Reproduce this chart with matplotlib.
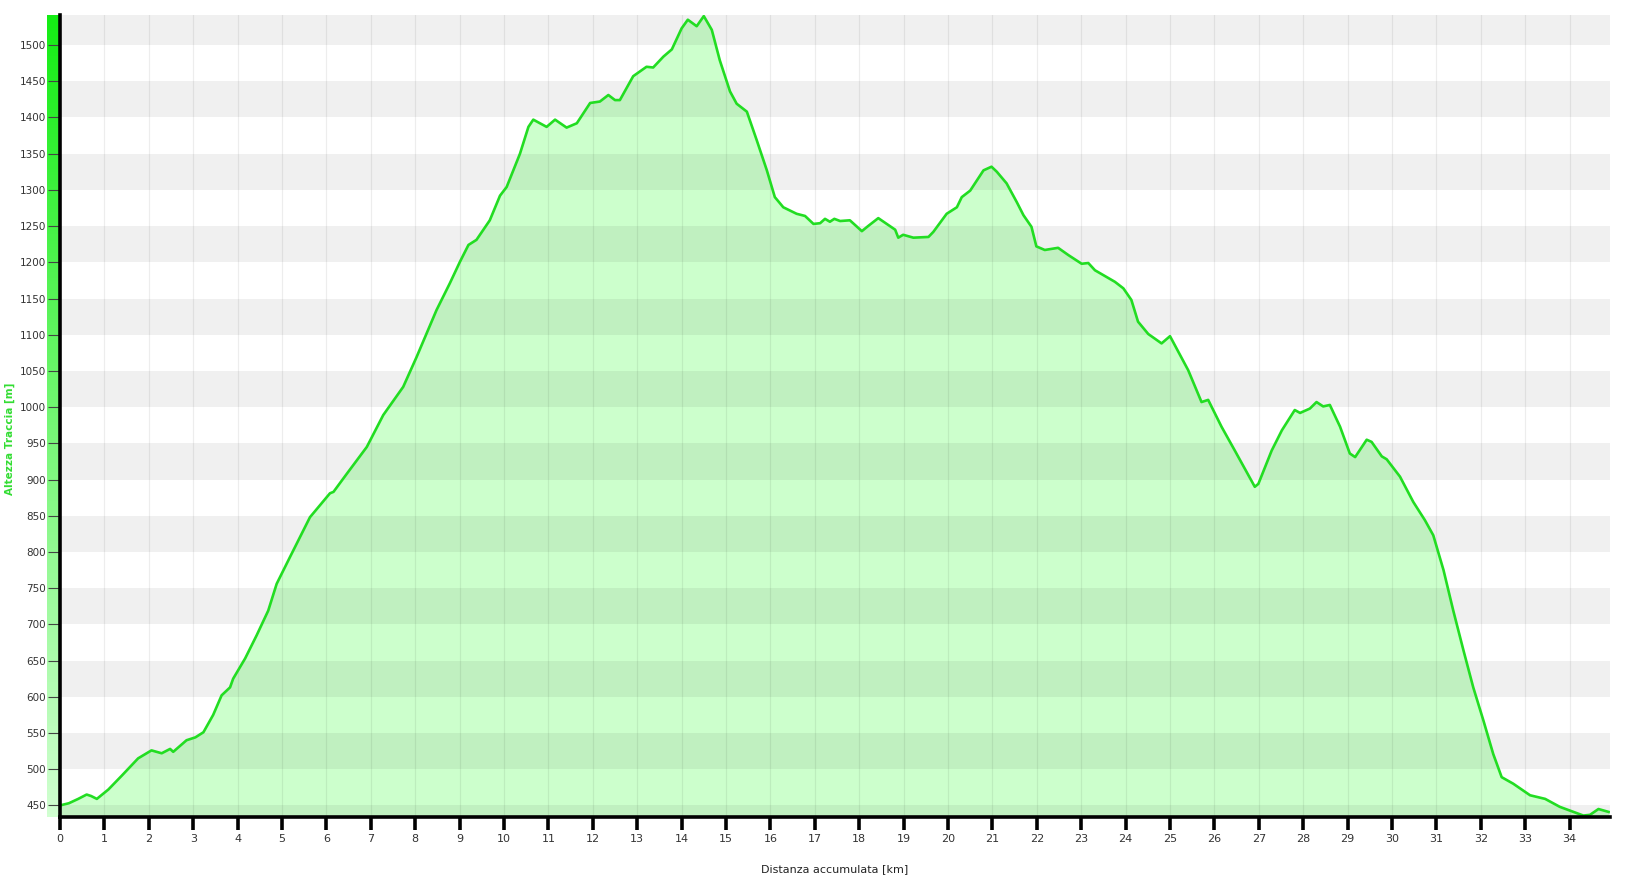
import matplotlib
matplotlib.use("Agg")
import matplotlib.pyplot as plt
import numpy as np

# ---- data (km, elevation m) ----
dist_km = [0.0, 0.2, 0.41, 0.6, 0.7, 0.83, 1.09, 1.39, 1.76, 2.06, 2.29, 2.48, 2.55, 2.85, 3.05,
           3.23, 3.45, 3.64, 3.83, 3.9, 4.17, 4.43, 4.69, 4.88, 5.18, 5.63, 6.08, 6.16, 6.46, 6.91,
           7.28, 7.73, 8.03, 8.48, 8.78, 9.01, 9.2, 9.38, 9.68, 9.91, 10.06, 10.36, 10.55, 10.66,
           10.96, 11.15, 11.41, 11.64, 11.94, 12.16, 12.35, 12.5, 12.61, 12.91, 13.21, 13.36, 13.59,
           13.78, 14.0, 14.14, 14.34, 14.5, 14.68, 14.86, 15.09, 15.24, 15.47, 15.69, 15.92, 16.1,
           16.29, 16.59, 16.78, 16.97, 17.12, 17.23, 17.34, 17.44, 17.57, 17.79, 18.06, 18.2, 18.43,
           18.69, 18.81, 18.88, 18.99, 19.22, 19.56, 19.67, 19.97, 20.2, 20.31, 20.5, 20.8, 20.98,
           21.1, 21.32, 21.55, 21.7, 21.88, 21.99, 22.18, 22.48, 22.71, 23.01, 23.16, 23.31, 23.76,
           23.95, 24.13, 24.28, 24.51, 24.81, 25.0, 25.41, 25.71, 25.86, 26.16, 26.46, 26.91, 26.99,
           27.29, 27.52, 27.81, 27.93, 28.15, 28.3, 28.45, 28.6, 28.83, 29.05, 29.17, 29.43, 29.54,
           29.77, 29.88, 30.18, 30.48, 30.74, 30.93, 31.16, 31.38, 31.61, 31.83, 32.06, 32.28, 32.47,
           32.73, 33.11, 33.45, 33.78, 34.0, 34.31, 34.46, 34.65, 34.88]
elev_m = [450, 453, 459, 465, 463, 459, 472, 491, 515, 526, 522, 528, 524, 540, 544,
          551, 575, 602, 613, 625, 653, 685, 719, 756, 793, 848, 881, 883, 908, 945,
          989, 1028, 1069, 1134, 1171, 1201, 1224, 1231, 1258, 1292, 1304, 1350, 1387, 1397,
          1387, 1397, 1386, 1392, 1420, 1422, 1431, 1424, 1424, 1457, 1470, 1469, 1484,
          1494, 1523, 1535, 1526, 1540, 1521, 1479, 1436, 1419, 1408, 1369, 1327, 1290,
          1276, 1267, 1264, 1253, 1254, 1260, 1256, 1260, 1257, 1258, 1243, 1250, 1261,
          1250, 1245, 1234, 1238, 1234, 1235, 1242, 1267, 1276, 1290, 1299, 1327, 1332,
          1325, 1309, 1283, 1265, 1249, 1222, 1217, 1220, 1210, 1198, 1199, 1189, 1173,
          1164, 1148, 1118, 1101, 1088, 1098, 1051, 1007, 1010, 973, 940, 890, 894,
          940, 968, 996, 992, 998, 1007, 1001, 1003, 973, 936, 931, 955, 952,
          932, 928, 904, 869, 844, 823, 775, 719, 664, 613, 567, 521, 489,
          480, 464, 459, 448, 443, 436, 437, 445, 441]

x_ticks = list(range(0, 35))
y_ticks = list(range(450, 1501, 50))
band_starts = list(range(400, 1501, 100))

xlabel = "Distanza accumulata [km]"
ylabel = "Altezza Traccia [m]"

X_MIN, X_MAX = 0, 34.91
Y_MIN, Y_MAX = 434, 1541.5

W, H = 1638, 877
fig = plt.figure(figsize=(W / 100, H / 100), dpi=100)
fig.patch.set_facecolor("white")

ax_l, ax_r, ax_b, ax_t = 60, 1610, 817, 15
pos = [ax_l / W, 1 - ax_b / H, (ax_r - ax_l) / W, (ax_b - ax_t) / H]

# gradient strip left of the y axis
strip = fig.add_axes([47 / W, pos[1], 12 / W, pos[3]])
top_c = np.array([0.08, 0.93, 0.08])
bot_c = np.array([0.82, 1.0, 0.82])
t = np.linspace(0, 1, 256)[:, None]
grad = (top_c * (1 - t) + bot_c * t)[:, None, :]
strip.imshow(grad, aspect="auto", extent=[0, 1, 0, 1])
strip.set_axis_off()

ax = fig.add_axes(pos)
ax.set_xlim(X_MIN, X_MAX)
ax.set_ylim(Y_MIN, Y_MAX)
ax.set_facecolor("white")

# area fill
ax.fill_between(dist_km, elev_m, Y_MIN, color="#ccffcc", lw=0, zorder=1)
# gray bands (drawn translucent over fill)
for b in band_starts:
    ax.axhspan(b, b + 50, color="black", alpha=0.058, lw=0, zorder=2)
# vertical grid
for xt in x_ticks[1:]:
    ax.axvline(xt, color="black", alpha=0.07, lw=0.9, zorder=2.5)
# profile line
ax.plot(dist_km, elev_m, color="#22dd22", lw=1.9, zorder=4, solid_joinstyle="round")

for s in ["top", "right"]:
    ax.spines[s].set_visible(False)
ax.spines["left"].set_linewidth(2.6)
ax.spines["bottom"].set_linewidth(2.6)
ax.spines["left"].set_color("black")
ax.spines["bottom"].set_color("black")
ax.spines["left"].set_zorder(6)
ax.spines["bottom"].set_zorder(6)

ax.set_xticks(x_ticks)
ax.set_xticklabels([str(v) for v in x_ticks])
ax.set_yticks(y_ticks)
ax.set_yticklabels([str(v) for v in y_ticks])
ax.tick_params(axis="x", direction="out", length=9.5, width=2.6, color="black",
               labelsize=8, labelcolor="#333333", pad=3)
ax.tick_params(axis="y", direction="out", length=8.5, width=0.8, color="#444444",
               labelsize=7.5, labelcolor="#333333", pad=1.5)

fig.text(835 / W, 1 - 869 / H, xlabel, ha="center", va="center", fontsize=8,
         color="#222222")
fig.text(10 / W, 1 - 439 / H, ylabel, ha="center", va="center", rotation=90,
         fontsize=7.5, color="#33dd33", fontweight="bold")

fig.savefig("out.png", dpi=100, facecolor="white")
